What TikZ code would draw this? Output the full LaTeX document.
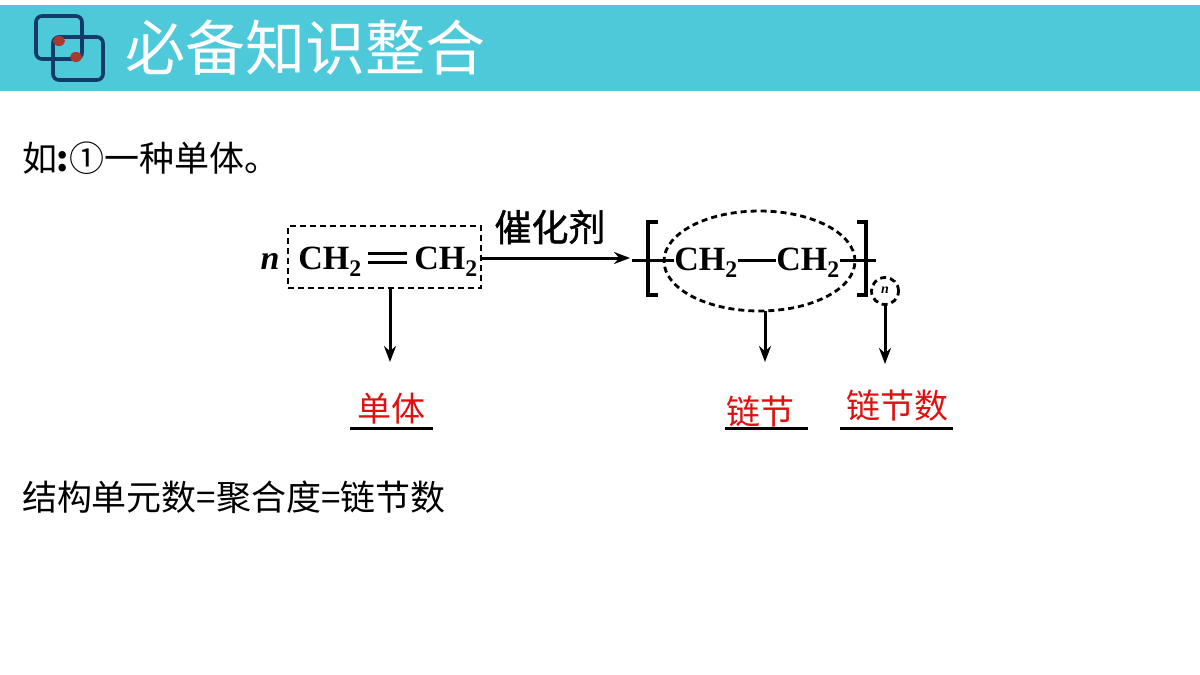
\documentclass[tikz,border=0pt]{standalone}
\usepackage{fontspec}
\setmainfont{Liberation Serif}
\newfontfamily\cjk{Noto Sans CJK SC}
\newfontfamily\cjkheavy[FakeBold=1.2]{Noto Sans CJK SC}
\usetikzlibrary{positioning, shapes.geometric, arrows.meta}

\definecolor{bannerblue}{HTML}{4DC9DA}
\definecolor{icondark}{HTML}{123A6B}
\definecolor{icondot}{HTML}{A83A30}
\definecolor{answerred}{HTML}{DD1111}

\tikzset{
  every node/.style={inner sep=0pt, outer sep=0pt},
  title/.style={text=white, anchor=west, font=\cjk\fontsize{60}{60}\selectfont},
  body/.style={anchor=west, font=\cjk\fontsize{35}{40}\selectfont},
  group/.style={font=\bfseries\fontsize{34}{34}\selectfont},
  answer/.style={text=answerred, font=\cjk\fontsize{34}{40}\selectfont},
  catalyst/.style={font=\cjkheavy\fontsize{37}{40}\selectfont},
  dashbox/.style={draw, line width=2.8pt, dash pattern=on 6pt off 4pt},
  link/.style={line width=3pt},
  arrow/.style={-{Stealth[length=16pt, width=12pt]}, line width=3pt},
  rule/.style={line width=3pt},
}

\begin{document}
\begin{tikzpicture}[x=1pt, y=-1pt]

  \useasboundingbox (0,0) rectangle (1200,675);

  % banner
  \fill [bannerblue] (0,5) rectangle (1200,91);
  \draw [icondark, line width=3.6pt, rounded corners=6pt] (36,16) rectangle (82,59);
  \draw [icondark, line width=3.6pt, rounded corners=6pt] (53,37) rectangle (103,80);
  \foreach \x/\y in {59/41,76/57}
  \fill [icondot] (\x,\y) ellipse (6 and 5);
  \node [title] (title) at (125,48) {必备知识整合};

  % text lines
  \node [body] (line-1) at (22,158) {如\textbf{:}①一种单体。};
  \node [body] (line-2) at (22,497) {结构单元数=聚合度=链节数};

  % monomer
  \node [group] (n) at (270,261) {\textit{n}};
  \node [group] (mono-1) at (330,262) {CH$_{\mathbf{2}}$};
  \node [group] (mono-2) at (446,262) {CH$_{\mathbf{2}}$};
  \node [dashbox, minimum width=193, minimum height=62] (box) at (384.5,257) {};
  \coordinate (double-a) at (368,253);
  \coordinate (double-b) at (407,262);
  \draw [link] (double-a) -- (double-a -| double-b);
  \draw [link] (double-a |- double-b) -- (double-b);

  % polymer
  \node [group] (unit-1) at (706,263) {CH$_{\mathbf{2}}$};
  \node [group] (unit-2) at (808,263) {CH$_{\mathbf{2}}$};
  \node [dashbox, ellipse, minimum width=191, minimum height=100] (ring) at (759.5,261) {};
  \node [dashbox, circle, minimum size=27] (count) at (885,291) {};
  \node [font=\fontsize{14}{14}\selectfont\bfseries\itshape] (count-n) at (885,290) {n};
  \draw [line width=3.2pt] (658,222) -- (648,222) -- (648,295) -- (658,295);
  \draw [line width=3.2pt] (857,222) -- (866,222) -- (866,295) -- (857,295);
  \coordinate (bond-l) at (632,260);
  \coordinate (bond-r) at (876,260);
  \draw [link] (bond-l) -- (bond-l -| unit-1.west);
  \draw [link] (bond-l -| unit-1.east) -- (bond-l -| unit-2.west);
  \draw [link] (bond-r -| unit-2.east) -- (bond-r);

  % reaction arrow
  \node [catalyst] (cat) at (550,227) {催化剂};
  \coordinate (react) at (630,258);
  \draw [arrow] (box.east |- react) -- (react);

  % answers
  \node [answer] (ans-1) at (391,409) {单体};
  \node [answer] (ans-2) at (760,411) {链节};
  \node [answer] (ans-3) at (897,406) {链节数};

  \foreach \a/\b/\y [count=\i] in {350/433/428,725/808/428,840/953/428}
  {
    \coordinate (rule-\i-a) at (\a,\y);
    \coordinate (rule-\i-b) at (\b,\y);
    \draw [rule] (rule-\i-a) -- (rule-\i-b);
  }

  % pointers
  \coordinate (tip-1) at (390,362);
  \coordinate (tip-2) at (765,362);
  \coordinate (tip-3) at (885,364);
  \draw [arrow] (box.south -| tip-1) -- (tip-1);
  \draw [arrow] (ring.south -| tip-2) -- (tip-2);
  \draw [arrow] (count.south) -- (tip-3);

\end{tikzpicture}
\end{document}
